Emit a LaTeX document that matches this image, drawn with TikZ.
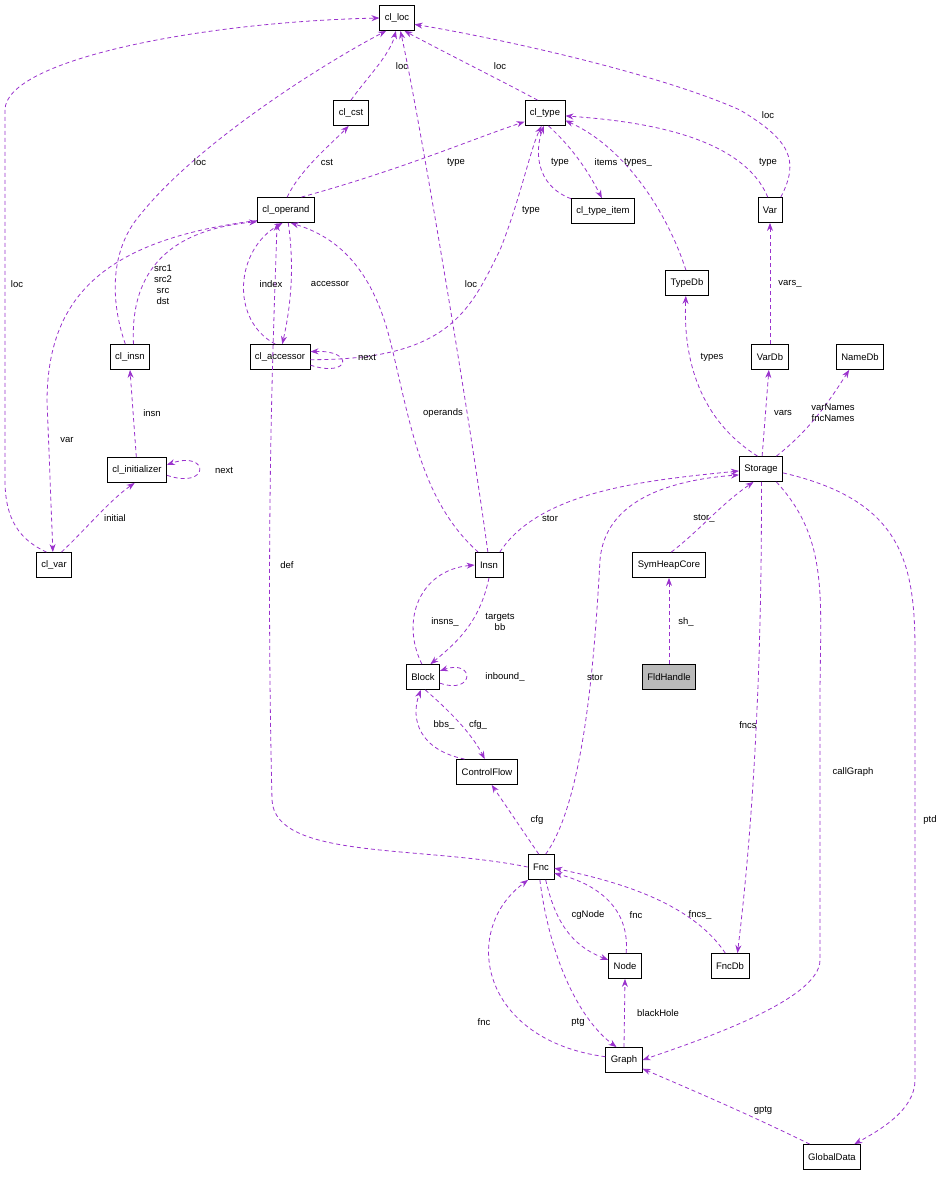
\documentclass[tikz,border=0pt]{standalone}
\usepackage{fontspec}
\setmainfont{Liberation Sans}
\usetikzlibrary{arrows.meta}
\definecolor{ec}{HTML}{9A32CD}
\tikzset{
 box/.style={draw,line width=0.8pt,minimum height=25pt,inner xsep=5pt,font=\fontsize{9.5}{11}\selectfont,fill=white},
 e/.style={draw=ec,line width=0.8pt,dash pattern=on 4pt off 3pt,-{Stealth[length=8pt,width=6pt,fill=ec]}},
 lbl/.style={font=\fontsize{9.5}{11}\selectfont,inner sep=1pt,align=center}
}
\begin{document}
\begin{tikzpicture}[x=1pt,y=-1pt]
\useasboundingbox (0,0) rectangle (948,1179);
\node[box] (cl_loc) at (397,18) {cl\_loc};
\node[box] (cl_cst) at (351,113) {cl\_cst};
\node[box] (cl_type) at (545,113) {cl\_type};
\node[box] (cl_operand) at (286,210) {cl\_operand};
\node[box] (cl_type_item) at (603,211) {cl\_type\_item};
\node[box] (Var) at (770,210) {Var};
\node[box] (TypeDb) at (687,283) {TypeDb};
\node[box] (VarDb) at (770,357) {VarDb};
\node[box] (NameDb) at (860,357) {NameDb};
\node[box] (cl_insn) at (130,357) {cl\_insn};
\node[box] (cl_accessor) at (280,357) {cl\_accessor};
\node[box] (cl_initializer) at (137,470) {cl\_initializer};
\node[box] (Storage) at (761,469) {Storage};
\node[box] (cl_var) at (54,565) {cl\_var};
\node[box] (Insn) at (489,565) {Insn};
\node[box] (SymHeapCore) at (669,565) {SymHeapCore};
\node[box,fill=black!27] (FldHandle) at (669,677) {FldHandle};
\node[box] (Block) at (423,677) {Block};
\node[box] (ControlFlow) at (487,772) {ControlFlow};
\node[box] (Fnc) at (541,867) {Fnc};
\node[box] (Node) at (625,966) {Node};
\node[box] (FncDb) at (730,966) {FncDb};
\node[box] (Graph) at (624,1060) {Graph};
\node[box] (GlobalData) at (832,1157) {GlobalData};

% to cl_loc
\path[e] (cl_cst.90) .. controls (365,80) and (390,55) .. (cl_loc.-95) node[lbl] at (402,66) {loc};
\path[e] (cl_type.120) .. controls (500,80) and (440,50) .. (cl_loc.-60) node[lbl] at (500,66) {loc};
\path[e] (Var.50) .. controls (800,160) and (790,140) .. (740,110) .. controls (650,70) and (480,35) .. (cl_loc.-20) node[lbl] at (768,115) {loc};
\path[e] (cl_insn.110) .. controls (110,300) and (110,250) .. (140,215) .. controls (200,140) and (330,60) .. (cl_loc.-130) node[lbl] at (200,162) {loc};
\path[e] (cl_var.120) .. controls (20,540) and (5,520) .. (5,480) -- (5,110) .. controls (5,60) and (200,22) .. (cl_loc.180) node[lbl] at (17,284) {loc};
\path[e] (Insn.95) .. controls (470,420) and (420,120) .. (cl_loc.-75) node[lbl] at (471,284) {loc};
% cl_operand out
\path[e] (cl_operand.85) .. controls (300,170) and (330,145) .. (cl_cst.-100) node[lbl] at (327,162) {cst};
\path[e] (cl_operand.40) .. controls (400,170) and (470,140) .. (cl_type.-157) node[lbl] at (456,162) {type};
\path[e] (cl_accessor.-5) .. controls (450,360) and (470,310) .. (500,250) .. controls (520,200) and (530,150) .. (cl_type.-105) node[lbl] at (531,210) {type};
\path[e] (cl_type_item.159) .. controls (535,185) and (535,150) .. (cl_type.-95) node[lbl] at (560,162) {type};
\path[e] (cl_type.-75) .. controls (575,150) and (590,175) .. (cl_type_item.95) node[lbl] at (606,162) {items};
\path[e] (TypeDb.95) .. controls (670,220) and (630,150) .. (cl_type.-20) node[lbl] at (638,162) {types\_};
\path[e] (Var.100) .. controls (740,130) and (620,120) .. (cl_type.-8) node[lbl] at (768,162) {type};
\path[e] (cl_accessor.110) .. controls (230,320) and (235,250) .. (cl_operand.-105) node[lbl] at (271,284) {index};
\path[e] (cl_operand.-80) .. controls (295,270) and (290,310) .. (cl_accessor.80) node[lbl] at (330,284) {accessor};
\path[e] (cl_accessor.-15) .. controls (350,378) and (355,350) .. (cl_accessor.10) node[lbl] at (367,357) {next};
\path[e] (cl_insn.75) .. controls (130,270) and (170,230) .. (cl_operand.-158) node[lbl] at (163,285) {src1\\src2\\src\\dst};
\path[e] (cl_operand.-160) .. controls (100,240) and (48,300) .. (47,400) -- (cl_var.95) node[lbl] at (67,440) {var};
\path[e] (Insn.130) .. controls (420,500) and (410,420) .. (390,340) .. controls (370,260) and (330,235) .. (cl_operand.-70) node[lbl] at (443,413) {operands};
\path[e] (Fnc.180) .. controls (420,845) and (275,860) .. (272,800) .. controls (265,500) and (275,300) .. (cl_operand.-125) node[lbl] at (287,565) {def};
% initializer
\path[e] (cl_initializer.93) -- (cl_insn.-90) node[lbl] at (152,413) {insn};
\path[e] (cl_initializer.-10) .. controls (210,490) and (210,450) .. (cl_initializer.10) node[lbl] at (224,470) {next};
\path[e] (cl_var.60) .. controls (85,530) and (110,500) .. (cl_initializer.-100) node[lbl] at (115,518) {initial};
% storage
\path[e] (VarDb.90) -- (Var.-90) node[lbl] at (790,284) {vars\_};
\path[e] (Storage.105) .. controls (700,420) and (683,360) .. (TypeDb.-95) node[lbl] at (712,357) {types};
\path[e] (Storage.85) -- (VarDb.-95) node[lbl] at (783,413) {vars};
\path[e] (Storage.40) .. controls (810,430) and (830,400) .. (NameDb.-130) node[lbl] at (833,413) {varNames\\fncNames};
\path[e] (Insn.50) .. controls (540,490) and (650,480) .. (Storage.-175) node[lbl] at (550,518) {stor};
\path[e] (SymHeapCore.80) .. controls (700,530) and (720,505) .. (Storage.-120) node[lbl] at (704,518) {stor\_};
\path[e] (Fnc.70) .. controls (585,800) and (595,650) .. (600,560) .. controls (605,500) and (670,480) .. (Storage.-165) node[lbl] at (595,677) {stor};
\path[e] (Storage.-88) .. controls (762,700) and (750,850) .. (FncDb.60) node[lbl] at (748,725) {fncs};
\path[e] (Storage.-40) .. controls (830,540) and (820,600) .. (820,700) -- (820,960) .. controls (820,1000) and (700,1040) .. (Graph.0) node[lbl] at (853,772) {callGraph};
\path[e] (Storage.-10) .. controls (900,500) and (915,560) .. (915,650) -- (915,1080) .. controls (915,1110) and (880,1130) .. (GlobalData.30) node[lbl] at (930,820) {ptd};
\path[e] (FldHandle.90) -- (SymHeapCore.-90) node[lbl] at (686,622) {sh\_};
% block
\path[e] (Block.95) .. controls (400,620) and (420,570) .. (Insn.180) node[lbl] at (445,622) {insns\_};
\path[e] (Insn.-90) .. controls (480,620) and (460,640) .. (Block.60) node[lbl] at (500,622) {targets\\bb};
\path[e] (Block.-20) .. controls (475,695) and (475,659) .. (Block.20) node[lbl] at (505,677) {inbound\_};
\path[e] (Block.-80) .. controls (460,720) and (475,740) .. (ControlFlow.100) node[lbl] at (478,725) {cfg\_};
\path[e] (ControlFlow.150) .. controls (420,750) and (410,720) .. (Block.-100) node[lbl] at (444,725) {bbs\_};
\path[e] (Fnc.100) -- (ControlFlow.-70) node[lbl] at (537,820) {cfg};
% fnc
\path[e] (Fnc.-70) .. controls (555,920) and (570,945) .. (Node.160) node[lbl] at (588,915) {cgNode};
\path[e] (Node.85) .. controls (630,910) and (600,885) .. (Fnc.-25) node[lbl] at (636,915) {fnc};
\path[e] (FncDb.110) .. controls (690,900) and (610,880) .. (Fnc.-5) node[lbl] at (700,915) {fncs\_};
\path[e] (Fnc.-95) .. controls (550,960) and (580,1020) .. (Graph.120) node[lbl] at (578,1022) {ptg};
\path[e] (Graph.170) .. controls (480,1040) and (460,930) .. (Fnc.-135) node[lbl] at (484,1022) {fnc};
\path[e] (Graph.90) -- (Node.-90) node[lbl] at (658,1013) {blackHole};
\path[e] (GlobalData.150) .. controls (740,1110) and (680,1085) .. (Graph.-25) node[lbl] at (763,1110) {gptg};
\end{tikzpicture}
\end{document}
